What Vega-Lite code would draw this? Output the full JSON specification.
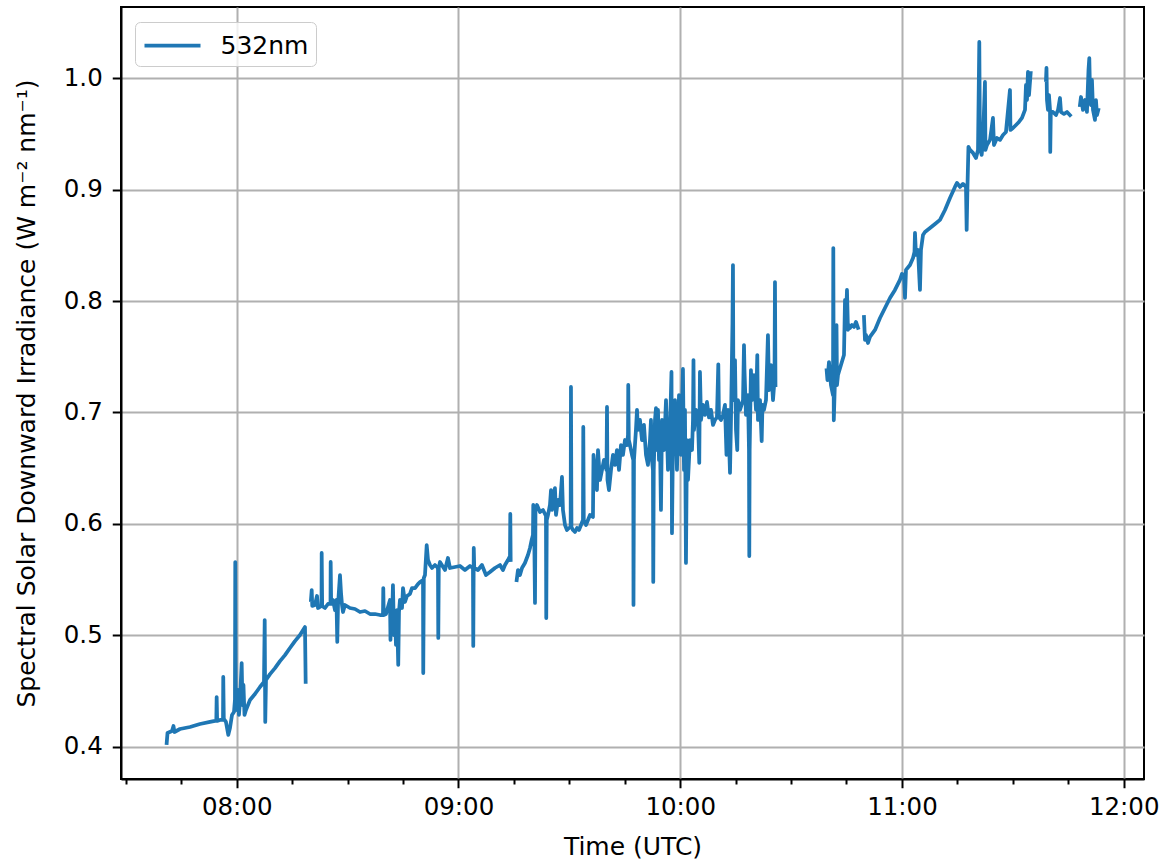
{
"$schema": "https://vega.github.io/schema/vega-lite/v6.json",
"width": 1023, "height": 772,
"autosize": {"type": "none"},
"padding": {"left": 121, "top": 7, "right": 25, "bottom": 85},
"background": "white",
"data": {"format": {"parse": {"t": "date:'%H:%M:%S'"}}, "values": [
{"t":"07:41:04","v":0.4033,"s":1},{"t":"07:41:17","v":0.4123,"s":1},{"t":"07:42:30","v":0.4141,"s":1},{"t":"07:42:54","v":0.4186,"s":1},{"t":"07:43:10","v":0.4132,"s":1},{"t":"07:44:39","v":0.4159,"s":1},{"t":"07:47:22","v":0.4177,"s":1},{"t":"07:50:04","v":0.4204,"s":1},{"t":"07:52:47","v":0.4222,"s":1},{"t":"07:54:08","v":0.4231,"s":1},{"t":"07:54:29","v":0.4231,"s":1},{"t":"07:54:35","v":0.4446,"s":1},{"t":"07:54:43","v":0.4231,"s":1},{"t":"07:55:29","v":0.4240,"s":1},{"t":"07:56:18","v":0.4240,"s":1},{"t":"07:56:22","v":0.4626,"s":1},{"t":"07:56:31","v":0.4249,"s":1},{"t":"07:57:06","v":0.4222,"s":1},{"t":"07:57:44","v":0.4106,"s":1},{"t":"07:58:11","v":0.4168,"s":1},{"t":"07:58:44","v":0.4285,"s":1},{"t":"07:59:16","v":0.4311,"s":1},{"t":"07:59:32","v":0.4419,"s":1},{"t":"07:59:37","v":0.5657,"s":1},{"t":"07:59:45","v":0.4419,"s":1},{"t":"08:00:05","v":0.4329,"s":1},{"t":"08:00:21","v":0.4509,"s":1},{"t":"08:00:37","v":0.4285,"s":1},{"t":"08:00:54","v":0.4419,"s":1},{"t":"08:01:21","v":0.4751,"s":1},{"t":"08:01:34","v":0.4374,"s":1},{"t":"08:01:50","v":0.4554,"s":1},{"t":"08:02:07","v":0.4285,"s":1},{"t":"08:02:31","v":0.4329,"s":1},{"t":"08:03:36","v":0.4419,"s":1},{"t":"08:04:57","v":0.4473,"s":1},{"t":"08:06:18","v":0.4536,"s":1},{"t":"08:07:23","v":0.4581,"s":1},{"t":"08:07:35","v":0.5137,"s":1},{"t":"08:07:44","v":0.4222,"s":1},{"t":"08:07:56","v":0.4599,"s":1},{"t":"08:09:01","v":0.4651,"s":1},{"t":"08:10:22","v":0.4705,"s":1},{"t":"08:11:43","v":0.4768,"s":1},{"t":"08:13:04","v":0.4822,"s":1},{"t":"08:14:25","v":0.4886,"s":1},{"t":"08:15:46","v":0.4948,"s":1},{"t":"08:17:08","v":0.5002,"s":1},{"t":"08:18:29","v":0.5074,"s":1},{"t":"08:18:40","v":0.4581,"s":1},
{"t":"08:20:06","v":0.5317,"s":2},{"t":"08:20:18","v":0.5406,"s":2},{"t":"08:20:27","v":0.5263,"s":2},{"t":"08:21:11","v":0.5272,"s":2},{"t":"08:21:44","v":0.5353,"s":2},{"t":"08:22:00","v":0.5245,"s":2},{"t":"08:22:57","v":0.5263,"s":2},{"t":"08:23:00","v":0.5739,"s":2},{"t":"08:23:08","v":0.5263,"s":2},{"t":"08:23:54","v":0.5245,"s":2},{"t":"08:24:42","v":0.5281,"s":2},{"t":"08:25:23","v":0.5281,"s":2},{"t":"08:25:26","v":0.5658,"s":2},{"t":"08:25:34","v":0.5281,"s":2},{"t":"08:26:03","v":0.5317,"s":2},{"t":"08:26:36","v":0.5227,"s":2},{"t":"08:27:00","v":0.5317,"s":2},{"t":"08:27:13","v":0.4940,"s":2},{"t":"08:27:25","v":0.5272,"s":2},{"t":"08:27:41","v":0.5406,"s":2},{"t":"08:27:57","v":0.5541,"s":2},{"t":"08:28:13","v":0.5388,"s":2},{"t":"08:28:30","v":0.5272,"s":2},{"t":"08:28:46","v":0.5209,"s":2},{"t":"08:29:18","v":0.5272,"s":2},{"t":"08:30:39","v":0.5245,"s":2},{"t":"08:32:01","v":0.5236,"s":2},{"t":"08:33:22","v":0.5209,"s":2},{"t":"08:34:43","v":0.5218,"s":2},{"t":"08:36:04","v":0.5191,"s":2},{"t":"08:37:25","v":0.5191,"s":2},{"t":"08:38:46","v":0.5182,"s":2},{"t":"08:39:35","v":0.5182,"s":2},{"t":"08:39:40","v":0.5424,"s":2},{"t":"08:39:48","v":0.5182,"s":2},{"t":"08:40:24","v":0.5191,"s":2},{"t":"08:41:29","v":0.5317,"s":2},{"t":"08:41:37","v":0.4958,"s":2},{"t":"08:41:45","v":0.5227,"s":2},{"t":"08:42:01","v":0.5092,"s":2},{"t":"08:42:17","v":0.5451,"s":2},{"t":"08:42:34","v":0.5002,"s":2},{"t":"08:42:50","v":0.5209,"s":2},{"t":"08:43:06","v":0.4913,"s":2},{"t":"08:43:22","v":0.5227,"s":2},{"t":"08:43:43","v":0.4734,"s":2},{"t":"08:43:55","v":0.5209,"s":2},{"t":"08:44:11","v":0.5317,"s":2},{"t":"08:44:44","v":0.5245,"s":2},{"t":"08:45:00","v":0.5424,"s":2},{"t":"08:45:32","v":0.5299,"s":2},{"t":"08:46:05","v":0.5353,"s":2},{"t":"08:46:53","v":0.5371,"s":2},{"t":"08:47:26","v":0.5424,"s":2},{"t":"08:48:15","v":0.5424,"s":2},{"t":"08:49:03","v":0.5460,"s":2},{"t":"08:49:36","v":0.5478,"s":2},{"t":"08:50:25","v":0.5496,"s":2},{"t":"08:50:29","v":0.4661,"s":2},{"t":"08:50:38","v":0.5514,"s":2},{"t":"08:50:57","v":0.5541,"s":2},{"t":"08:51:25","v":0.5810,"s":2},{"t":"08:51:46","v":0.5676,"s":2},{"t":"08:52:18","v":0.5631,"s":2},{"t":"08:52:51","v":0.5604,"s":2},{"t":"08:53:39","v":0.5631,"s":2},{"t":"08:54:28","v":0.5604,"s":2},{"t":"08:54:33","v":0.4976,"s":2},{"t":"08:54:41","v":0.5604,"s":2},{"t":"08:55:00","v":0.5658,"s":2},{"t":"08:56:22","v":0.5586,"s":2},{"t":"08:57:10","v":0.5694,"s":2},{"t":"08:57:43","v":0.5604,"s":2},{"t":"08:59:04","v":0.5613,"s":2},{"t":"09:00:25","v":0.5622,"s":2},{"t":"09:01:46","v":0.5586,"s":2},{"t":"09:03:08","v":0.5622,"s":2},{"t":"09:03:56","v":0.5604,"s":2},{"t":"09:04:01","v":0.4904,"s":2},{"t":"09:04:09","v":0.5784,"s":2},{"t":"09:04:17","v":0.5604,"s":2},{"t":"09:05:17","v":0.5586,"s":2},{"t":"09:06:22","v":0.5631,"s":2},{"t":"09:07:27","v":0.5541,"s":2},{"t":"09:08:32","v":0.5568,"s":2},{"t":"09:09:53","v":0.5604,"s":2},{"t":"09:11:15","v":0.5631,"s":2},{"t":"09:12:03","v":0.5586,"s":2},{"t":"09:12:36","v":0.5631,"s":2},{"t":"09:13:24","v":0.5676,"s":2},{"t":"09:13:57","v":0.5712,"s":2},{"t":"09:14:02","v":0.6089,"s":2},{"t":"09:14:08","v":0.5676,"s":2},
{"t":"09:15:46","v":0.5496,"s":3},{"t":"09:16:07","v":0.5586,"s":3},{"t":"09:16:39","v":0.5541,"s":3},{"t":"09:17:12","v":0.5604,"s":3},{"t":"09:18:00","v":0.5649,"s":3},{"t":"09:18:49","v":0.5721,"s":3},{"t":"09:19:22","v":0.5784,"s":3},{"t":"09:19:49","v":0.5856,"s":3},{"t":"09:20:10","v":0.5900,"s":3},{"t":"09:20:15","v":0.6170,"s":3},{"t":"09:20:27","v":0.6107,"s":3},{"t":"09:20:43","v":0.5290,"s":3},{"t":"09:20:51","v":0.6125,"s":3},{"t":"09:21:15","v":0.6170,"s":3},{"t":"09:22:04","v":0.6107,"s":3},{"t":"09:22:53","v":0.6125,"s":3},{"t":"09:23:25","v":0.6089,"s":3},{"t":"09:23:41","v":0.6071,"s":3},{"t":"09:23:46","v":0.5155,"s":3},{"t":"09:23:54","v":0.6035,"s":3},{"t":"09:24:14","v":0.6080,"s":3},{"t":"09:24:46","v":0.6170,"s":3},{"t":"09:25:03","v":0.6304,"s":3},{"t":"09:25:19","v":0.6125,"s":3},{"t":"09:25:51","v":0.6260,"s":3},{"t":"09:26:07","v":0.6322,"s":3},{"t":"09:26:24","v":0.6080,"s":3},{"t":"09:26:56","v":0.6215,"s":3},{"t":"09:27:29","v":0.6170,"s":3},{"t":"09:28:01","v":0.6421,"s":3},{"t":"09:28:17","v":0.6125,"s":3},{"t":"09:28:50","v":0.5990,"s":3},{"t":"09:29:22","v":0.5945,"s":3},{"t":"09:29:55","v":0.5963,"s":3},{"t":"09:30:22","v":0.5972,"s":3},{"t":"09:30:27","v":0.7229,"s":3},{"t":"09:30:35","v":0.5972,"s":3},{"t":"09:31:00","v":0.5945,"s":3},{"t":"09:31:32","v":0.5927,"s":3},{"t":"09:32:05","v":0.5963,"s":3},{"t":"09:32:37","v":0.5945,"s":3},{"t":"09:33:10","v":0.5990,"s":3},{"t":"09:33:42","v":0.6035,"s":3},{"t":"09:33:47","v":0.6870,"s":3},{"t":"09:33:55","v":0.6035,"s":3},{"t":"09:34:31","v":0.5990,"s":3},{"t":"09:35:36","v":0.6080,"s":3},{"t":"09:36:24","v":0.6062,"s":3},{"t":"09:36:33","v":0.6619,"s":3},{"t":"09:36:57","v":0.6484,"s":3},{"t":"09:37:29","v":0.6304,"s":3},{"t":"09:37:46","v":0.6663,"s":3},{"t":"09:38:18","v":0.6394,"s":3},{"t":"09:38:51","v":0.6484,"s":3},{"t":"09:39:23","v":0.6574,"s":3},{"t":"09:40:04","v":0.6484,"s":3},{"t":"09:40:12","v":0.7050,"s":3},{"t":"09:40:20","v":0.6394,"s":3},{"t":"09:40:44","v":0.6304,"s":3},{"t":"09:41:17","v":0.6484,"s":3},{"t":"09:41:49","v":0.6619,"s":3},{"t":"09:42:22","v":0.6529,"s":3},{"t":"09:42:54","v":0.6663,"s":3},{"t":"09:43:27","v":0.6484,"s":3},{"t":"09:43:59","v":0.6708,"s":3},{"t":"09:44:31","v":0.6619,"s":3},{"t":"09:45:04","v":0.6753,"s":3},{"t":"09:45:36","v":0.6708,"s":3},{"t":"09:45:53","v":0.6798,"s":3},{"t":"09:45:57","v":0.7247,"s":3},{"t":"09:46:06","v":0.6753,"s":3},{"t":"09:46:25","v":0.6708,"s":3},{"t":"09:46:58","v":0.6619,"s":3},{"t":"09:47:19","v":0.6574,"s":3},{"t":"09:47:22","v":0.5272,"s":3},{"t":"09:47:30","v":0.6574,"s":3},{"t":"09:48:02","v":0.6843,"s":3},{"t":"09:48:19","v":0.7023,"s":3},{"t":"09:48:35","v":0.6843,"s":3},{"t":"09:49:07","v":0.6933,"s":3},{"t":"09:49:40","v":0.6753,"s":3},{"t":"09:50:12","v":0.6888,"s":3},{"t":"09:50:45","v":0.6619,"s":3},{"t":"09:51:17","v":0.6529,"s":3},{"t":"09:51:50","v":0.6753,"s":3},{"t":"09:52:06","v":0.6933,"s":3},{"t":"09:52:22","v":0.6574,"s":3},{"t":"09:52:38","v":0.6484,"s":3},{"t":"09:52:43","v":0.5479,"s":3},{"t":"09:52:51","v":0.6484,"s":3},{"t":"09:53:11","v":0.6933,"s":3},{"t":"09:53:27","v":0.7040,"s":3},{"t":"09:53:43","v":0.6663,"s":3},{"t":"09:54:00","v":0.7023,"s":3},{"t":"09:54:16","v":0.6574,"s":3},{"t":"09:54:32","v":0.6753,"s":3},{"t":"09:54:48","v":0.6125,"s":3},{"t":"09:55:05","v":0.6933,"s":3},{"t":"09:55:37","v":0.6663,"s":3},{"t":"09:56:10","v":0.7111,"s":3},{"t":"09:56:42","v":0.6484,"s":3},{"t":"09:57:14","v":0.6843,"s":3},{"t":"09:57:39","v":0.7364,"s":3},{"t":"09:57:47","v":0.5917,"s":3},{"t":"09:58:03","v":0.6753,"s":3},{"t":"09:58:36","v":0.7111,"s":3},{"t":"09:59:08","v":0.6484,"s":3},{"t":"09:59:41","v":0.7156,"s":3},{"t":"10:00:13","v":0.6619,"s":3},{"t":"10:00:45","v":0.7391,"s":3},{"t":"10:01:02","v":0.6484,"s":3},{"t":"10:01:18","v":0.7023,"s":3},{"t":"10:01:34","v":0.5649,"s":3},{"t":"10:01:50","v":0.6753,"s":3},{"t":"10:02:07","v":0.6394,"s":3},{"t":"10:02:39","v":0.6753,"s":3},{"t":"10:03:12","v":0.6663,"s":3},{"t":"10:03:28","v":0.6933,"s":3},{"t":"10:03:36","v":0.7471,"s":3},{"t":"10:03:44","v":0.6843,"s":3},{"t":"10:04:17","v":0.7023,"s":3},{"t":"10:04:49","v":0.6933,"s":3},{"t":"10:05:10","v":0.6547,"s":3},{"t":"10:05:21","v":0.7364,"s":3},{"t":"10:05:38","v":0.6933,"s":3},{"t":"10:06:10","v":0.7068,"s":3},{"t":"10:06:43","v":0.6978,"s":3},{"t":"10:07:15","v":0.7095,"s":3},{"t":"10:07:48","v":0.6956,"s":3},{"t":"10:08:20","v":0.7023,"s":3},{"t":"10:08:53","v":0.6888,"s":3},{"t":"10:09:25","v":0.6933,"s":3},{"t":"10:09:57","v":0.6956,"s":3},{"t":"10:10:19","v":0.7432,"s":3},{"t":"10:10:30","v":0.6956,"s":3},{"t":"10:11:02","v":0.6933,"s":3},{"t":"10:11:35","v":0.6978,"s":3},{"t":"10:12:07","v":0.7068,"s":3},{"t":"10:12:32","v":0.6619,"s":3},{"t":"10:12:56","v":0.7023,"s":3},{"t":"10:13:29","v":0.6457,"s":3},{"t":"10:13:45","v":0.6933,"s":3},{"t":"10:14:09","v":0.7804,"s":3},{"t":"10:14:17","v":0.8324,"s":3},{"t":"10:14:25","v":0.7111,"s":3},{"t":"10:14:50","v":0.7471,"s":3},{"t":"10:15:06","v":0.6843,"s":3},{"t":"10:15:27","v":0.6663,"s":3},{"t":"10:15:38","v":0.7111,"s":3},{"t":"10:16:11","v":0.7023,"s":3},{"t":"10:17:00","v":0.7111,"s":3},{"t":"10:17:16","v":0.7605,"s":3},{"t":"10:17:24","v":0.7381,"s":3},{"t":"10:17:48","v":0.6978,"s":3},{"t":"10:18:21","v":0.7156,"s":3},{"t":"10:18:37","v":0.6663,"s":3},{"t":"10:18:42","v":0.5711,"s":3},{"t":"10:18:48","v":0.6663,"s":3},{"t":"10:19:09","v":0.7381,"s":3},{"t":"10:19:26","v":0.7111,"s":3},{"t":"10:19:58","v":0.7336,"s":3},{"t":"10:20:31","v":0.7023,"s":3},{"t":"10:20:52","v":0.7516,"s":3},{"t":"10:21:03","v":0.6933,"s":3},{"t":"10:21:36","v":0.7111,"s":3},{"t":"10:22:03","v":0.6743,"s":3},{"t":"10:22:16","v":0.7068,"s":3},{"t":"10:22:40","v":0.7023,"s":3},{"t":"10:23:13","v":0.7111,"s":3},{"t":"10:23:45","v":0.7695,"s":3},{"t":"10:24:02","v":0.7201,"s":3},{"t":"10:24:34","v":0.7426,"s":3},{"t":"10:25:07","v":0.7111,"s":3},{"t":"10:25:31","v":0.7291,"s":3},{"t":"10:25:39","v":0.8171,"s":3},{"t":"10:25:47","v":0.7246,"s":3},
{"t":"10:39:38","v":0.7379,"s":4},{"t":"10:39:51","v":0.7291,"s":4},{"t":"10:40:16","v":0.7453,"s":4},{"t":"10:40:48","v":0.7246,"s":4},{"t":"10:41:21","v":0.7156,"s":4},{"t":"10:41:26","v":0.8476,"s":4},{"t":"10:41:34","v":0.6930,"s":4},{"t":"10:41:53","v":0.7291,"s":4},{"t":"10:42:18","v":0.7785,"s":4},{"t":"10:42:26","v":0.7246,"s":4},{"t":"10:42:42","v":0.7336,"s":4},{"t":"10:44:19","v":0.7516,"s":4},{"t":"10:44:36","v":0.8010,"s":4},{"t":"10:44:52","v":0.7830,"s":4},{"t":"10:45:08","v":0.8100,"s":4},{"t":"10:45:24","v":0.7741,"s":4},{"t":"10:45:40","v":0.7785,"s":4},{"t":"10:45:57","v":0.7759,"s":4},{"t":"10:46:29","v":0.7785,"s":4},{"t":"10:47:02","v":0.7768,"s":4},{"t":"10:47:34","v":0.7813,"s":4},{"t":"10:48:07","v":0.7759,"s":4},
{"t":"10:49:44","v":0.7857,"s":5},{"t":"10:50:00","v":0.7651,"s":5},{"t":"10:50:16","v":0.7696,"s":5},{"t":"10:50:49","v":0.7624,"s":5},{"t":"10:51:21","v":0.7678,"s":5},{"t":"10:52:43","v":0.7741,"s":5},{"t":"10:54:04","v":0.7848,"s":5},{"t":"10:55:25","v":0.7938,"s":5},{"t":"10:56:46","v":0.8028,"s":5},{"t":"10:58:07","v":0.8100,"s":5},{"t":"10:59:28","v":0.8190,"s":5},{"t":"11:00:01","v":0.8244,"s":5},{"t":"11:00:33","v":0.8235,"s":5},{"t":"11:00:50","v":0.8028,"s":5},{"t":"11:01:06","v":0.8280,"s":5},{"t":"11:02:11","v":0.8324,"s":5},{"t":"11:03:00","v":0.8387,"s":5},{"t":"11:03:24","v":0.8441,"s":5},{"t":"11:03:32","v":0.8612,"s":5},{"t":"11:03:48","v":0.8414,"s":5},{"t":"11:04:21","v":0.8459,"s":5},{"t":"11:04:53","v":0.8100,"s":5},{"t":"11:05:09","v":0.8459,"s":5},{"t":"11:05:42","v":0.8593,"s":5},{"t":"11:06:14","v":0.8620,"s":5},{"t":"11:07:36","v":0.8656,"s":5},{"t":"11:08:57","v":0.8692,"s":5},{"t":"11:10:18","v":0.8729,"s":5},{"t":"11:11:39","v":0.8818,"s":5},{"t":"11:13:00","v":0.8926,"s":5},{"t":"11:14:21","v":0.9025,"s":5},{"t":"11:14:54","v":0.9061,"s":5},{"t":"11:15:43","v":0.9025,"s":5},{"t":"11:16:31","v":0.9052,"s":5},{"t":"11:17:20","v":0.9025,"s":5},{"t":"11:17:31","v":0.8639,"s":5},{"t":"11:17:44","v":0.9025,"s":5},{"t":"11:18:00","v":0.9384,"s":5},{"t":"11:18:25","v":0.9357,"s":5},{"t":"11:19:14","v":0.9330,"s":5},{"t":"11:20:02","v":0.9285,"s":5},{"t":"11:20:35","v":0.9357,"s":5},{"t":"11:20:56","v":1.0326,"s":5},{"t":"11:21:07","v":0.9375,"s":5},{"t":"11:21:35","v":0.9312,"s":5},{"t":"11:21:56","v":0.9447,"s":5},{"t":"11:22:28","v":0.9967,"s":5},{"t":"11:22:36","v":0.9357,"s":5},{"t":"11:23:01","v":0.9401,"s":5},{"t":"11:23:50","v":0.9447,"s":5},{"t":"11:24:38","v":0.9644,"s":5},{"t":"11:24:54","v":0.9401,"s":5},{"t":"11:25:43","v":0.9464,"s":5},{"t":"11:26:32","v":0.9447,"s":5},{"t":"11:27:21","v":0.9491,"s":5},{"t":"11:28:09","v":0.9518,"s":5},{"t":"11:29:14","v":0.9895,"s":5},{"t":"11:29:22","v":0.9536,"s":5},{"t":"11:30:03","v":0.9554,"s":5},{"t":"11:30:52","v":0.9581,"s":5},{"t":"11:31:40","v":0.9608,"s":5},{"t":"11:32:29","v":0.9644,"s":5},{"t":"11:33:18","v":0.9716,"s":5},{"t":"11:33:34","v":0.9940,"s":5},{"t":"11:33:50","v":0.9805,"s":5},{"t":"11:34:06","v":1.0057,"s":5},{"t":"11:34:23","v":0.9850,"s":5},{"t":"11:34:50","v":1.0048,"s":5},
{"t":"11:38:59","v":0.9985,"s":6},{"t":"11:39:07","v":1.0093,"s":6},{"t":"11:39:15","v":0.9805,"s":6},{"t":"11:39:31","v":0.9716,"s":6},{"t":"11:39:47","v":0.9850,"s":6},{"t":"11:40:04","v":0.9716,"s":6},{"t":"11:40:08","v":0.9339,"s":6},{"t":"11:40:17","v":0.9698,"s":6},{"t":"11:40:52","v":0.9698,"s":6},{"t":"11:41:41","v":0.9670,"s":6},{"t":"11:42:14","v":0.9716,"s":6},{"t":"11:42:46","v":0.9823,"s":6},{"t":"11:43:02","v":0.9698,"s":6},{"t":"11:43:51","v":0.9680,"s":6},{"t":"11:44:40","v":0.9698,"s":6},{"t":"11:45:28","v":0.9670,"s":6},
{"t":"11:48:11","v":0.9760,"s":7},{"t":"11:48:27","v":0.9832,"s":7},{"t":"11:48:59","v":0.9716,"s":7},{"t":"11:49:32","v":0.9805,"s":7},{"t":"11:50:04","v":0.9698,"s":7},{"t":"11:50:29","v":1.0075,"s":7},{"t":"11:50:42","v":1.0182,"s":7},{"t":"11:50:53","v":0.9895,"s":7},{"t":"11:51:09","v":0.9760,"s":7},{"t":"11:51:25","v":0.9985,"s":7},{"t":"11:51:42","v":0.9716,"s":7},{"t":"11:52:14","v":0.9626,"s":7},{"t":"11:52:30","v":0.9805,"s":7},{"t":"11:52:47","v":0.9670,"s":7},{"t":"11:53:08","v":0.9716,"s":7}
]},
"mark": {"type": "line", "strokeWidth": 3.75, "strokeJoin": "round", "strokeCap": "square"},
"encoding": {
  "x": {"field": "t", "type": "temporal",
    "scale": {"domain": [{"year": 1900, "month": 1, "date": 1, "hours": 7, "minutes": 28, "seconds": 42}, {"year": 1900, "month": 1, "date": 1, "hours": 12, "minutes": 5, "seconds": 30}], "nice": false},
    "axis": {"title": "Time (UTC)",
      "labelExpr": "minutes(datum.value) == 0 ? timeFormat(datum.value, '%H:%M') : ''",
      "gridOpacity": {"condition": {"test": "minutes(datum.value) == 0", "value": 1}, "value": 0},
      "tickSize": {"condition": {"test": "minutes(datum.value) == 0", "value": 8.75}, "value": 5},
      "labelPadding": 8, "titlePadding": 15, "labelFlush": false, "labelOverlap": false}},
  "y": {"field": "v", "type": "quantitative",
    "scale": {"domain": [0.371, 1.064], "nice": false, "zero": false},
    "axis": {"title": "Spectral Solar Downward Irradiance (W m⁻² nm⁻¹)", "values": [0.4, 0.5, 0.6, 0.7, 0.8, 0.9, 1.0], "format": ".1f", "tickSize": 8.75, "labelPadding": 10, "titlePadding": 24}},
  "detail": {"field": "s", "type": "nominal"},
  "color": {"datum": "532nm", "type": "nominal", "scale": {"range": ["#1f77b4"]},
    "legend": {"title": null, "orient": "none", "legendX": 14, "legendY": 15, "symbolType": "M-1,0H3", "symbolSize": 784, "symbolStrokeWidth": 3.75, "labelFontSize": 25, "labelFont": "DejaVu Sans", "labelColor": "#000000", "labelOffset": 46, "padding": 7.5, "fillColor": "rgba(255,255,255,0.8)", "strokeColor": "#cccccc", "cornerRadius": 5}}
},
"config": {
  "font": "DejaVu Sans",
  "view": {"stroke": "#000000", "strokeWidth": 2},
  "axis": {"domainColor": "#000000", "domainWidth": 2, "tickColor": "#000000", "tickWidth": 2, "gridColor": "#b0b0b0", "gridWidth": 2, "grid": true,
    "labelFont": "DejaVu Sans", "labelFontSize": 24.5, "labelColor": "#000000", "titleFont": "DejaVu Sans", "titleFontSize": 25, "titleFontWeight": "normal", "titleColor": "#000000"}
}
}
